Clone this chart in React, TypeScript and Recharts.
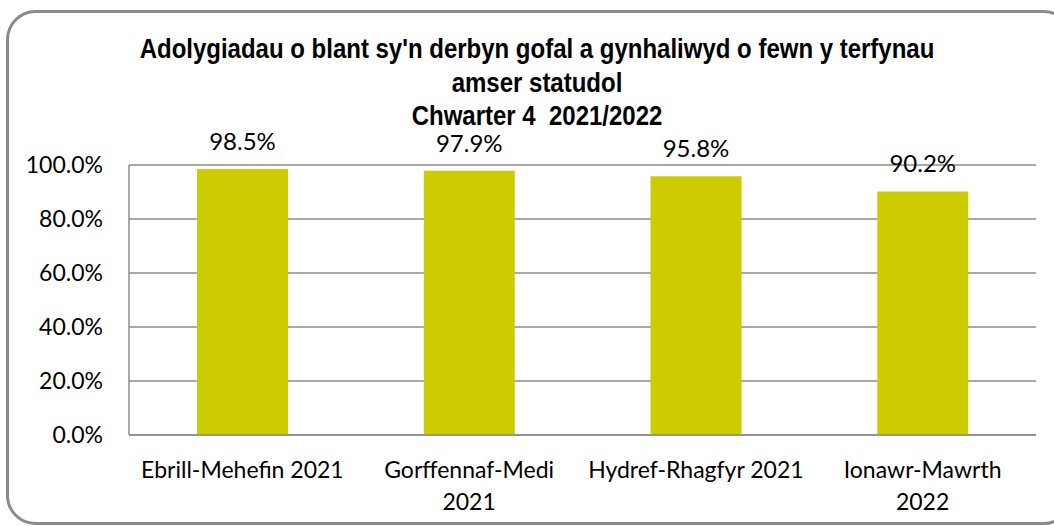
import React from "react";
import {
  BarChart,
  Bar,
  XAxis,
  YAxis,
  CartesianGrid,
  LabelList,
} from "recharts";

const titleLines = [
  "Adolygiadau o blant sy'n derbyn gofal a gynhaliwyd o fewn y terfynau",
  "amser statudol",
  "Chwarter 4  2021/2022",
];

const categories = [
  "Ebrill-Mehefin 2021",
  "Gorffennaf-Medi 2021",
  "Hydref-Rhagfyr 2021",
  "Ionawr-Mawrth 2022",
];

const categoryLines = [
  ["Ebrill-Mehefin 2021"],
  ["Gorffennaf-Medi", "2021"],
  ["Hydref-Rhagfyr 2021"],
  ["Ionawr-Mawrth", "2022"],
];

const values = [0.985, 0.979, 0.958, 0.902];

const yTicks = [0, 0.2, 0.4, 0.6, 0.8, 1.0];

const data = categories.map((c, i) => ({ name: c, value: values[i] }));

const pct = (v: number) => (v * 100).toFixed(1) + "%";

const GRID = "#8c8c8c";
const BAR = "#cccc00";

const XTick = (props: any) => {
  const { x, y, payload } = props;
  const idx = categories.indexOf(payload.value);
  const lines = idx >= 0 ? categoryLines[idx] : [String(payload.value)];
  return (
    <text
      x={x}
      y={y}
      textAnchor="middle"
      fontFamily="Lato"
      fontSize={23}
      fill="#000"
    >
      {lines.map((l, i) => (
        <tspan key={i} x={x} y={y + 43 + i * 32}>
          {l}
        </tspan>
      ))}
    </text>
  );
};

export default function App() {
  return (
    <div
      style={{
        position: "absolute",
        left: 0,
        top: 0,
        width: 1054,
        height: 526,
        overflow: "hidden",
        background: "#fff",
      }}
    >
      <div style={{ position: "absolute", left: 0, top: 0 }}>
        <BarChart
          width={1054}
          height={526}
          data={data}
          margin={{ top: 165, right: 18, bottom: 31, left: 0 }}
          barCategoryGap="30%"
        >
          <CartesianGrid vertical={false} stroke={GRID} strokeWidth={1.5} />
          <XAxis
            dataKey="name"
            interval={0}
            height={60}
            tickSize={0}
            tickMargin={0}
            tickLine={false}
            axisLine={{ stroke: GRID, strokeWidth: 1.5 }}
            tick={<XTick />}
          />
          <YAxis
            width={129}
            domain={[0, 1]}
            ticks={yTicks}
            tickFormatter={pct}
            tickSize={0}
            tickMargin={26}
            tickLine={false}
            axisLine={{ stroke: GRID, strokeWidth: 1.5 }}
            tick={{ fontFamily: "Lato", fontSize: 23, fill: "#000" }}
          />
          <Bar dataKey="value" fill={BAR} isAnimationActive={false}>
            <LabelList
              dataKey="value"
              position="top"
              offset={19}
              formatter={(v: any) => pct(Number(v))}
              style={{ fontFamily: "Lato", fontSize: 24, fill: "#000" }}
            />
          </Bar>
        </BarChart>
      </div>
      <svg
        width={1054}
        height={526}
        style={{ position: "absolute", left: 0, top: 0, pointerEvents: "none" }}
      >
        <rect
          x={7.5}
          y={11.5}
          width={1064}
          height={512}
          rx={28}
          ry={28}
          fill="none"
          stroke="#8a8a8a"
          strokeWidth={3}
        />
        {titleLines.map((t, i) => (
          <text
            key={i}
            x={0}
            y={0}
            transform={`translate(537 ${[58, 92, 125][i]}) scale(1 1.14)`}
            textAnchor="middle"
            fontFamily="Liberation Sans"
            fontWeight="bold"
            fontSize={24}
            fill="#000"
            xmlSpace="preserve"
            style={{ whiteSpace: "pre" }}
          >
            {t}
          </text>
        ))}
      </svg>
    </div>
  );
}
